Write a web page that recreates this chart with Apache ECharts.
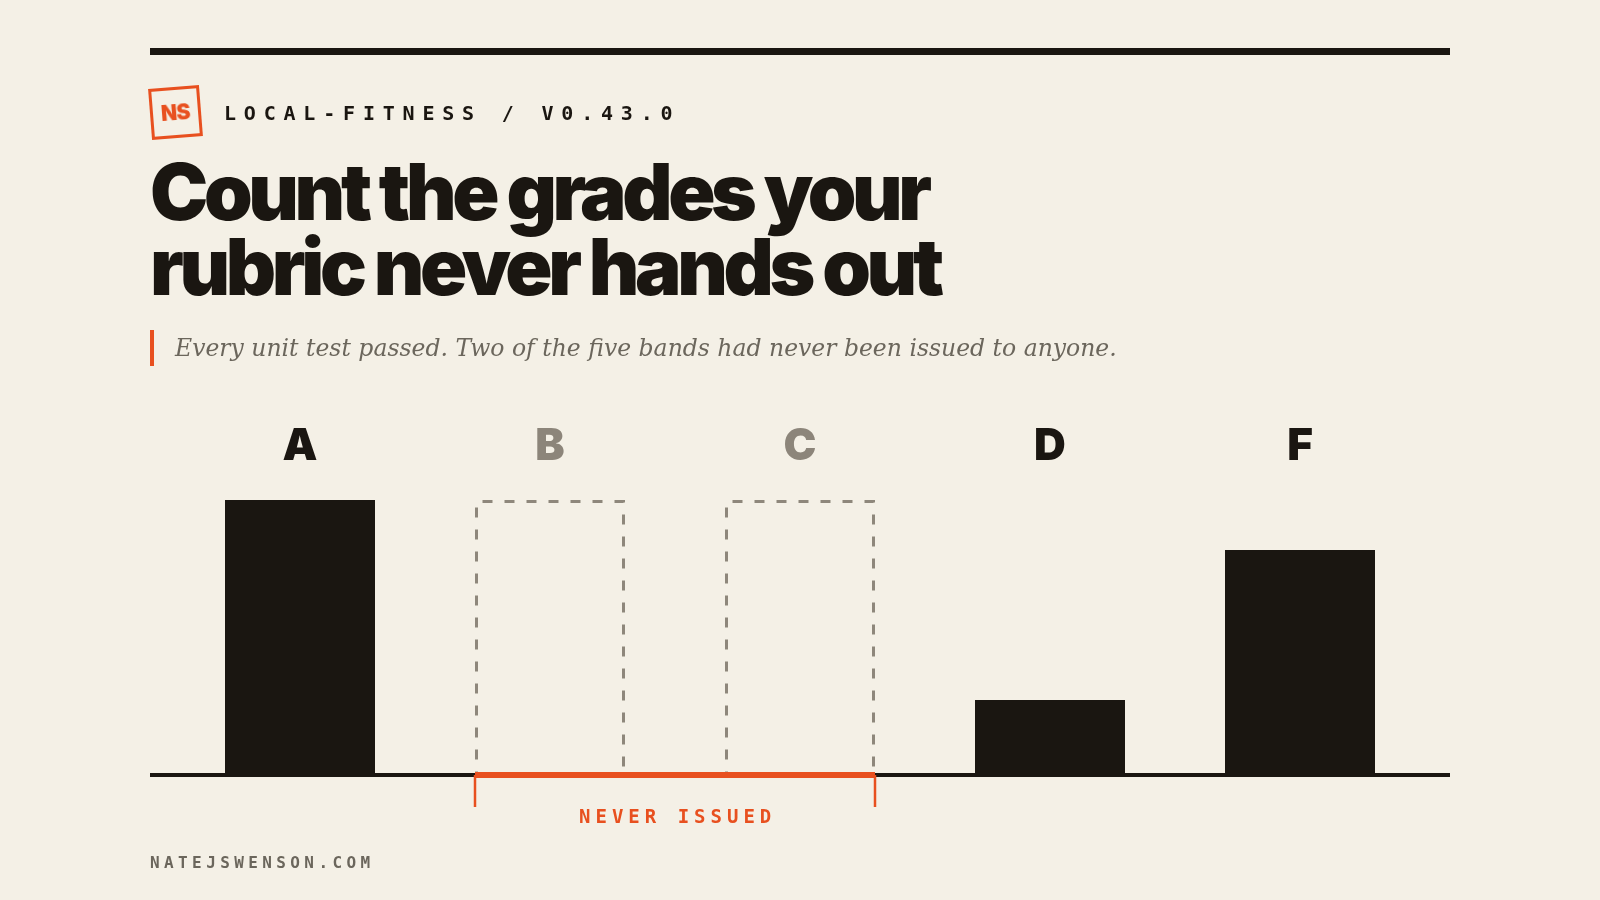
<!DOCTYPE html>
<html>
<head>
<meta charset="utf-8">
<title>Count the grades your rubric never hands out</title>
<script src="https://cdn.jsdelivr.net/npm/echarts@6/dist/echarts.min.js"></script>
<style>
  html, body { margin: 0; padding: 0; }
  body { width: 1600px; height: 900px; background: #F4F0E6; position: relative; overflow: hidden; }
  #chart { position: absolute; left: 0; top: 0; width: 1600px; height: 900px; }
  .ov { position: absolute; pointer-events: none; white-space: nowrap; z-index: 2; }
  #rule { left: 150px; top: 48px; width: 1300px; height: 7px; background: #1A1611; }
  #logo { left: 150px; top: 87px; width: 45px; height: 45px; border: 3px solid #E8501F;
          transform: rotate(-4.5deg); color: #E8501F; font: 900 21px Inter, sans-serif;
          line-height: 45px; text-align: center; letter-spacing: -0.5px; }
  #kicker { left: 224px; top: 103px; font: 700 20px "DejaVu Sans Mono", monospace; line-height: 20px;
            letter-spacing: 7.8px; color: #1A1611; }
  #title { left: 150px; top: 154px; font: 900 78px Inter, sans-serif; line-height: 75px;
           letter-spacing: -0.056em; color: #1A1611; }
  #subbar { left: 150px; top: 330px; width: 4px; height: 36px; background: #E8501F; }
  #sub { left: 175px; top: 334px; font: italic 400 23.5px "DejaVu Serif", serif; line-height: 28px; color: #6B665C; }
  #foot { left: 150px; top: 855px; font: 700 16px "DejaVu Sans Mono", monospace; line-height: 16px;
          letter-spacing: 4.4px; color: #6B665C; }
  #never { top: 807px; font: 700 19px "DejaVu Sans Mono", monospace; line-height: 19px;
           letter-spacing: 5px; color: #E8501F; }
</style>
</head>
<body>
<div id="chart"></div>
<div class="ov" id="rule"></div>
<div class="ov" id="logo">NS</div>
<div class="ov" id="kicker">LOCAL-FITNESS / V0.43.0</div>
<div class="ov" id="title">Count the grades your<br>rubric never hands out</div>
<div class="ov" id="subbar"></div>
<div class="ov" id="sub">Every unit test passed. Two of the five bands had never been issued to anyone.</div>
<div class="ov" id="never">NEVER ISSUED</div>
<div class="ov" id="foot">NATEJSWENSON.COM</div>
<script>
// grade bands and how many times each was handed out
var grades = ['A', 'B', 'C', 'D', 'F'];
var counts = [11, 0, 0, 3, 9];
var neverLabel = 'NEVER ISSUED';

var INK = '#1A1611';
var GHOST = '#8C857A';
var ORANGE = '#E8501F';
var BAR_W = 150;

var maxCount = Math.max.apply(null, counts);
// empty bands get a dashed placeholder at full height
var ghostData = counts.map(function (c) { return c === 0 ? maxCount : '-'; });
var emptyIdx = [];
counts.forEach(function (c, i) { if (c === 0) emptyIdx.push(i); });
var bracketData = [[emptyIdx[0], emptyIdx[emptyIdx.length - 1]]];

var chart = echarts.init(document.getElementById('chart'));

var option = {
    animation: false,
    backgroundColor: 'transparent',
    grid: { left: 175, right: 175, top: 500, bottom: 125 },
    xAxis: [
        {
            type: 'category',
            data: grades,
            show: false
        },
        {
            type: 'category',
            data: grades,
            position: 'top',
            axisLine: { show: false },
            axisTick: { show: false },
            axisLabel: {
                interval: 0,
                margin: 53,
                verticalAlign: 'middle',
                fontFamily: 'Inter',
                fontWeight: 900,
                fontSize: 44,
                color: function (v, i) { return counts[i] === 0 ? GHOST : INK; }
            }
        }
    ],
    yAxis: { type: 'value', min: 0, max: maxCount, show: false },
    graphic: [
        {
            type: 'line',
            z: 1,
            shape: { x1: 150, y1: 775, x2: 1450, y2: 775 },
            style: { stroke: INK, lineWidth: 4 }
        }
    ],
    series: [
        {
            name: 'issued',
            type: 'bar',
            barWidth: BAR_W,
            data: counts,
            itemStyle: { color: INK }
        },
        {
            name: 'never',
            type: 'bar',
            barWidth: BAR_W,
            barGap: '-100%',
            data: ghostData,
            itemStyle: {
                color: 'transparent',
                borderColor: '#8E877B',
                borderWidth: 3,
                borderType: [10, 12]
            }
        },
        {
            name: 'bracket',
            type: 'custom',
            z: 10,
            data: bracketData,
            renderItem: function (params, api) {
                var a = api.coord([api.value(0), 0]);
                var b = api.coord([api.value(1), 0]);
                var x0 = a[0] - BAR_W / 2, x1 = b[0] + BAR_W / 2, y = a[1];
                return {
                    type: 'group',
                    children: [
                        { type: 'line', shape: { x1: x0, y1: y, x2: x1, y2: y }, style: { stroke: ORANGE, lineWidth: 6 } },
                        { type: 'line', shape: { x1: x0, y1: y, x2: x0, y2: y + 32 }, style: { stroke: ORANGE, lineWidth: 2.5 } },
                        { type: 'line', shape: { x1: x1, y1: y, x2: x1, y2: y + 32 }, style: { stroke: ORANGE, lineWidth: 2.5 } }
                    ]
                };
            }
        }
    ]
};
chart.setOption(option);

// place the letter-spaced bracket label under the middle of the bracket
var never = document.getElementById('never');
never.textContent = neverLabel;
var cx = (chart.convertToPixel({ xAxisIndex: 0 }, grades[emptyIdx[0]]) +
          chart.convertToPixel({ xAxisIndex: 0 }, grades[emptyIdx[emptyIdx.length - 1]])) / 2;
never.style.left = (cx - (never.offsetWidth - 5) / 2) + 'px';
</script>
</body>
</html>
